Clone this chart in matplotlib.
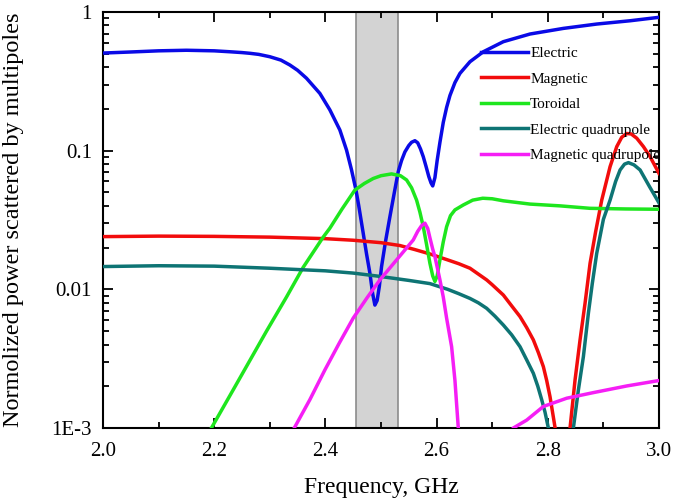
import numpy as np
import matplotlib
matplotlib.use("Agg")
import matplotlib.pyplot as plt
from matplotlib.ticker import FixedLocator, MultipleLocator, LogLocator, NullFormatter

plt.rcParams['font.family'] = ['Liberation Serif', 'DejaVu Serif']

# values (frequency in GHz, normalized power)
f_el = [2.00, 2.05, 2.10, 2.15, 2.20, 2.228, 2.25, 2.264, 2.28, 2.30, 2.32,
        2.336, 2.35, 2.366, 2.39, 2.408, 2.426, 2.438, 2.447, 2.455, 2.46,
        2.468, 2.474, 2.48, 2.485, 2.489, 2.493, 2.497, 2.501, 2.508, 2.516,
        2.524, 2.531, 2.537, 2.543, 2.55, 2.555, 2.561, 2.566, 2.571, 2.576,
        2.581, 2.586, 2.590, 2.593, 2.597, 2.601, 2.606, 2.612, 2.618, 2.624,
        2.633, 2.642, 2.66, 2.684, 2.72, 2.768, 2.828, 2.888, 2.948, 3.00]
p_el = [0.506, 0.515, 0.525, 0.53, 0.525, 0.517, 0.51, 0.504, 0.495, 0.476,
        0.45, 0.415, 0.38, 0.333, 0.259, 0.197, 0.141, 0.101, 0.0726, 0.052,
        0.040, 0.0254, 0.018, 0.0131, 0.0093, 0.0077, 0.0083, 0.0105, 0.0146,
        0.022, 0.0334, 0.05, 0.0706, 0.085, 0.098, 0.109, 0.115, 0.118, 0.114,
        0.103, 0.0905, 0.077, 0.065, 0.0585, 0.0557, 0.064, 0.085, 0.115,
        0.16, 0.205, 0.25, 0.31, 0.361, 0.438, 0.517, 0.611, 0.694, 0.762,
        0.819, 0.865, 0.916]

f_mag = [2.00, 2.10, 2.20, 2.30, 2.40, 2.45, 2.50, 2.534, 2.56, 2.588, 2.62,
         2.64, 2.66, 2.69, 2.70, 2.72, 2.735, 2.75, 2.762, 2.774, 2.783,
         2.792, 2.798, 2.804, 2.813, 2.82, 2.828, 2.835, 2.840, 2.849, 2.858,
         2.867, 2.876, 2.886, 2.897, 2.912, 2.924, 2.933, 2.942, 2.950, 2.960,
         2.972, 2.984, 3.00]
p_mag = [0.0240, 0.0242, 0.0241, 0.0238, 0.0232, 0.0226, 0.0217, 0.0207,
         0.0194, 0.0180, 0.0163, 0.0153, 0.0142, 0.0117, 0.0108, 0.0091,
         0.0076, 0.00636, 0.0053, 0.00432, 0.0035, 0.00277, 0.0022, 0.00168,
         0.00101, 0.0006, 0.0003, 0.0006, 0.0010, 0.00222, 0.00432, 0.00794,
         0.0154, 0.026, 0.044, 0.0767, 0.107, 0.125, 0.133, 0.132, 0.123,
         0.107, 0.0905, 0.0686]

f_tor = [2.19, 2.195, 2.234, 2.294, 2.33, 2.36, 2.396, 2.408, 2.43, 2.453,
         2.47, 2.486, 2.50, 2.519, 2.535, 2.546, 2.555, 2.564, 2.57, 2.576,
         2.582, 2.588, 2.593, 2.597, 2.601, 2.606, 2.612, 2.618, 2.625, 2.633,
         2.648, 2.665, 2.683, 2.70, 2.72, 2.768, 2.822, 2.876, 2.94, 3.00]
p_tor = [0.00093, 0.0010, 0.00188, 0.00499, 0.0088, 0.0144, 0.0238, 0.0276,
         0.038, 0.052, 0.058, 0.063, 0.066, 0.068, 0.066, 0.0615, 0.054,
         0.044, 0.036, 0.0283, 0.021, 0.0154, 0.0125, 0.0114, 0.0125, 0.0163,
         0.022, 0.0283, 0.034, 0.0374, 0.0406, 0.044, 0.0454, 0.0450, 0.0435,
         0.0412, 0.0400, 0.0384, 0.0380, 0.0378]

f_eq = [2.00, 2.10, 2.20, 2.30, 2.40, 2.45, 2.498, 2.55, 2.588, 2.62, 2.64,
        2.66, 2.675, 2.69, 2.705, 2.72, 2.735, 2.75, 2.762, 2.774, 2.782,
        2.789, 2.795, 2.801, 2.81, 2.82, 2.835, 2.846, 2.855, 2.864, 2.873,
        2.880, 2.888, 2.90, 2.912, 2.922, 2.930, 2.938, 2.945, 2.955, 2.966,
        2.983, 3.00]
p_eq = [0.0146, 0.0148, 0.0147, 0.0142, 0.0136, 0.0131, 0.0124, 0.0116,
        0.0110, 0.0100, 0.0093, 0.0086, 0.0080, 0.0073, 0.0064, 0.00553,
        0.0047, 0.00386, 0.0031, 0.00248, 0.0020, 0.0016, 0.0013, 0.0010,
        0.0006, 0.0003, 0.0003, 0.0010, 0.00188, 0.00327, 0.00673, 0.011,
        0.0182, 0.032, 0.044, 0.060, 0.0726, 0.080, 0.082, 0.079, 0.0726,
        0.055, 0.042]

f_mq = [2.34, 2.344, 2.372, 2.399, 2.425, 2.45, 2.475, 2.498, 2.528, 2.558,
        2.566, 2.573, 2.579, 2.584, 2.588, 2.593, 2.597, 2.601, 2.606, 2.612,
        2.618, 2.627, 2.633, 2.639, 2.645,
        2.69,
        2.73, 2.738, 2.762, 2.792, 2.834, 2.882, 2.942, 3.00]
p_mq = [0.00093, 0.0010, 0.0016, 0.00262, 0.0041, 0.0062, 0.0087, 0.0117,
        0.0163, 0.0227, 0.0262, 0.0288, 0.030, 0.0275, 0.0235, 0.0195,
        0.0172, 0.0145, 0.0117, 0.0088, 0.0062, 0.00386, 0.0022, 0.0010,
        0.0007,
        np.nan,
        0.0009, 0.0010, 0.00114, 0.00143, 0.00164, 0.0018, 0.00201, 0.0022]

band = (2.455, 2.531)

fig = plt.figure(figsize=(6.75, 5.01), dpi=100)
ax = fig.add_axes([0.1526, 0.1457, 0.8237, 0.8303])

ax.axvspan(band[0], band[1], facecolor='#d3d3d3', edgecolor='#8c8c8c', lw=1.2, zorder=1)

lw = 2.5
ax.plot(f_el, p_el, color='#0a0ae6', lw=lw, label='Electric', zorder=3)
ax.plot(f_mag, p_mag, color='#f20c0c', lw=lw, label='Magnetic', zorder=3)
ax.plot(f_tor, p_tor, color='#1ee61e', lw=lw, label='Toroidal', zorder=3)
ax.plot(f_eq, p_eq, color='#0e7474', lw=lw, label='Electric quadrupole', zorder=3)
ax.plot(f_mq, p_mq, color='#f51ef5', lw=lw, label='Magnetic quadrupole', zorder=3)

ax.set_yscale('log')
ax.set_xlim(2.0, 3.0)
ax.set_ylim(1e-3, 1)

ax.xaxis.set_major_locator(MultipleLocator(0.2))
ax.xaxis.set_minor_locator(MultipleLocator(0.1))
ax.xaxis.set_major_formatter(plt.FuncFormatter(lambda v, p: "%.1f" % v))
ax.yaxis.set_major_locator(FixedLocator([1e-3, 1e-2, 1e-1, 1]))
ax.yaxis.set_minor_locator(LogLocator(base=10, subs=np.arange(2, 10)))
ax.yaxis.set_minor_formatter(NullFormatter())
ax.set_yticklabels(['1E-3', '0.01', '0.1', '1'])

ax.tick_params(which='both', direction='in', top=True, right=True,
               labelsize=15, width=1.3)
ax.tick_params(which='major', length=7)
ax.tick_params(which='minor', length=4)
ax.tick_params(axis='x', which='major', pad=10)
ax.tick_params(axis='y', which='major', pad=8)
for s in ax.spines.values():
    s.set_linewidth(1.5)

ax.set_xlabel('Frequency, GHz', fontsize=17)
ax.set_ylabel('Normolized power scattered by multipoles', fontsize=17.5)
ax.xaxis.set_label_coords(0.5, -0.117)
ax.yaxis.set_label_coords(-0.142, 0.5)

ax.legend(loc='upper left', bbox_to_anchor=(0.679, 0.917), frameon=False,
          fontsize=11, handlelength=3.1, handletextpad=0.15,
          labelspacing=0.77, borderpad=0, borderaxespad=0)

fig.savefig('out.png', dpi=100)
